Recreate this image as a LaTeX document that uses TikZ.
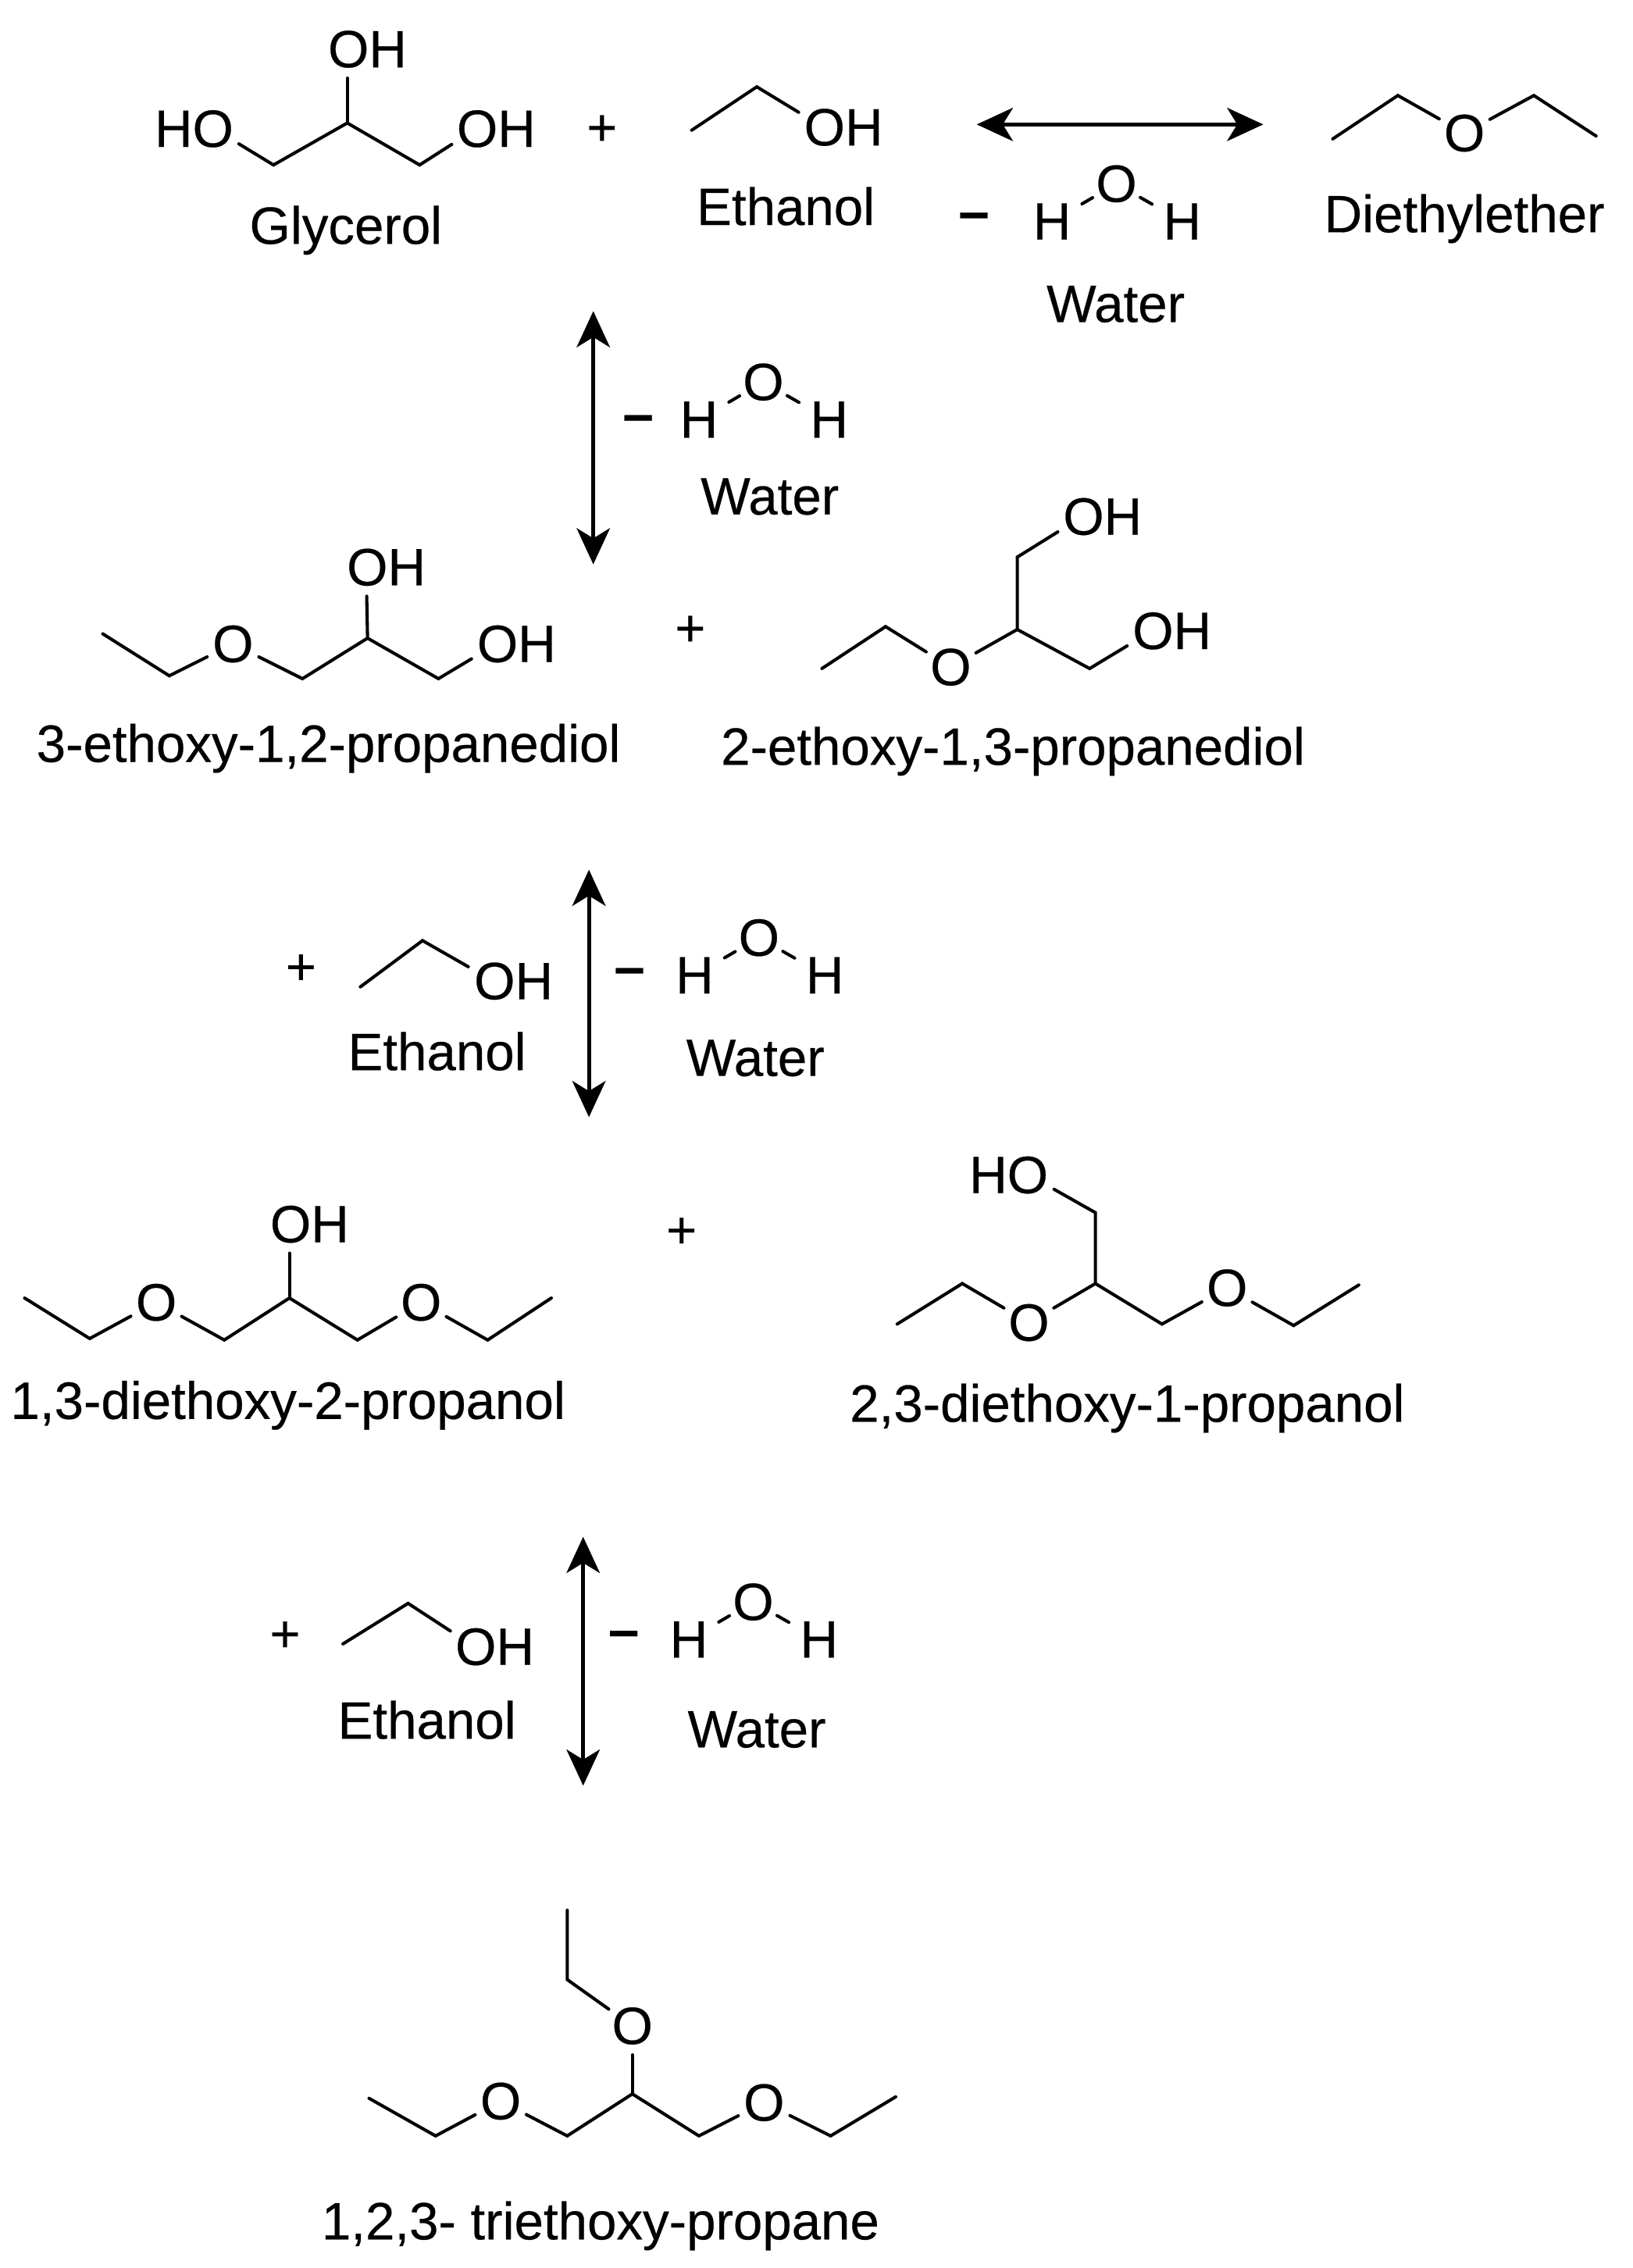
\documentclass[tikz,border=0pt]{standalone}
\usepackage{fontspec}
\setmainfont[FakeBold=0.35]{Liberation Sans}
\usetikzlibrary{arrows.meta}
\newcommand{\atomOH}[3]{\coordinate (#1) at (#2,#3); \node[atom,anchor=west] (#1t) at (#2-13.5,#3) {OH};}
\newcommand{\atomHO}[3]{\coordinate (#1) at (#2,#3); \node[atom,anchor=east] (#1t) at (#2+13.5,#3) {HO};}
\newcommand{\waterAt}[4]{% name, x of left H, y of H, y of O
  \node[atom] (#1l) at (#2,#3) {H};
  \node[atom] (#1o) at (#2+44.5,#4) {O};
  \node[atom] (#1r) at (#2+90,#3) {H};
  \draw[bond,shorten <=24pt,shorten >=19pt] (#1l.center) -- (#1o.center);
  \draw[bond,shorten <=19pt,shorten >=24pt] (#1o.center) -- (#1r.center);}
\tikzset{
  atom/.style={inner sep=0pt,text height=25pt,text depth=0pt,font=\fontsize{36.3}{40}\selectfont},
  plussign/.style={inner sep=0pt,font=\fontsize{36}{40}\selectfont},
  minussign/.style={inner sep=0pt,font=\fontsize{38}{40}\selectfont\bfseries},
  bond/.style={draw,line width=2.2pt,line join=miter,line cap=round},
  tail/.style={shorten >=20pt},
  head/.style={shorten <=20pt},
  both/.style={shorten >=20pt,shorten <=20pt},
  eqarrow/.style={draw,line width=2.6pt,{Stealth[length=25pt,width=23pt,inset=7pt]}-{Stealth[length=25pt,width=23pt,inset=7pt]}},
}
\begin{document}
\begin{tikzpicture}[x=1pt,y=-1pt]
\useasboundingbox (0,0) rectangle (1128,1567.3);

% Glycerol
\atomHO{gA}{148}{89}
\atomOH{gB}{240}{34}
\atomOH{gC}{329}{89}
\coordinate (g1) at (189,114); \coordinate (g2) at (240,85); \coordinate (g3) at (290,114);
\draw[bond,both] (gA) -- (g1) -- (g2) -- (g3) -- (gC);
\draw[bond,tail] (g2) -- (gB);
\node[atom] (glyL) at (239,156) {Glycerol};
\node[plussign] (p1) at (416,90) {+};
% Ethanol
\coordinate (e1) at (478,90); \coordinate (e2) at (523,60);
\atomOH{eO}{569}{88}
\draw[bond,tail] (e1) -- (e2) -- (eO);
\node[atom] (etL) at (543,143) {Ethanol};
% top arrow
\coordinate (ta) at (675,86); \coordinate (tb) at (873,86);
\draw[eqarrow] (ta) -- (tb);
\node[minussign] (m1) at (673,153) {–};
\waterAt{wa}{727}{153}{127}
\node[atom] (waL) at (771,210) {Water};
% Diethylether
\coordinate (d1) at (921,96); \coordinate (d2) at (966,66); \coordinate (d3) at (1060,66); \coordinate (d4) at (1103,94);
\coordinate (dOc) at (1012,92);
\node[atom] (dO) at (dOc) {O};
\draw[bond,tail] (d1) -- (d2) -- (dOc);
\draw[bond,head] (dOc) -- (d3) -- (d4);
\node[atom] (dL) at (1012,148) {Diethylether};

% Arrow 1
\coordinate (a1a) at (410,215); \coordinate (a1b) at (410,390);
\draw[eqarrow] (a1a) -- (a1b);
\node[minussign] (m2) at (441,293) {–};
\waterAt{wb}{483}{290}{264}
\node[atom] (wbL) at (532,343) {Water};

% 3-ethoxy-1,2-propanediol
\coordinate (m1a) at (71,438); \coordinate (m1b) at (117,467); \coordinate (m1o) at (161,445);
\coordinate (m1c) at (209,469); \coordinate (m1d) at (254,441); \coordinate (m1e) at (303,469);
\node[atom] (m1O) at (m1o) {O};
\atomOH{m1x}{343}{445}
\atomOH{m1y}{253}{392}
\draw[bond,tail] (m1a) -- (m1b) -- (m1o);
\draw[bond,both] (m1o) -- (m1c) -- (m1d) -- (m1e) -- (m1x);
\draw[bond,tail] (m1d) -- (m1y);
\node[atom] (m1L) at (227,514) {3-ethoxy-1,2-propanediol};
\node[plussign] (p2) at (477,436) {+};

% 2-ethoxy-1,3-propanediol
\coordinate (m2a) at (568,462); \coordinate (m2b) at (612,433); \coordinate (m2o) at (657,461);
\coordinate (m2c) at (703,435); \coordinate (m2d) at (703,385); \coordinate (m2e) at (753,462);
\node[atom] (m2O) at (m2o) {O};
\atomOH{m2x}{748}{357}
\atomOH{m2y}{796}{436}
\draw[bond,tail] (m2a) -- (m2b) -- (m2o);
\draw[bond,head] (m2o) -- (m2c) -- (m2d);
\draw[bond,tail] (m2d) -- (m2x);
\draw[bond,tail] (m2c) -- (m2e) -- (m2y);
\node[atom] (m2L) at (700,516) {2-ethoxy-1,3-propanediol};

% Arrow 2
\coordinate (a2a) at (407,601); \coordinate (a2b) at (407,772);
\draw[eqarrow] (a2a) -- (a2b);
\node[plussign] (p3) at (208,670) {+};
\coordinate (e3) at (249,682); \coordinate (e4) at (292,650);
\atomOH{e2O}{341}{678}
\draw[bond,tail] (e3) -- (e4) -- (e2O);
\node[atom] (e2L) at (302,727) {Ethanol};
\node[minussign] (m3) at (435,675) {–};
\waterAt{wc}{480}{674}{648}
\node[atom] (wcL) at (522,731) {Water};

% 1,3-diethoxy-2-propanol
\coordinate (n1a) at (17,897); \coordinate (n1b) at (62,925); \coordinate (n1o) at (108,900);
\coordinate (n1c) at (155,926); \coordinate (n1d) at (200,897); \coordinate (n1e) at (247,926);
\coordinate (n1p) at (291,900); \coordinate (n1f) at (337,926); \coordinate (n1g) at (381,897);
\node[atom] (n1O) at (n1o) {O};
\node[atom] (n1P) at (n1p) {O};
\atomOH{n1x}{200}{846}
\draw[bond,tail] (n1a) -- (n1b) -- (n1o);
\draw[bond,both] (n1o) -- (n1c) -- (n1d) -- (n1e) -- (n1p);
\draw[bond,head] (n1p) -- (n1f) -- (n1g);
\draw[bond,tail] (n1d) -- (n1x);
\node[atom] (n1L) at (199,968) {1,3-diethoxy-2-propanol};
\node[plussign] (p4) at (471,852) {+};

% 2,3-diethoxy-1-propanol
\coordinate (n2a) at (620,915); \coordinate (n2b) at (665,887); \coordinate (n2o) at (711,914);
\coordinate (n2c) at (757,887); \coordinate (n2d) at (803,915); \coordinate (n2p) at (848,890);
\coordinate (n2e) at (894,916); \coordinate (n2f) at (939,888); \coordinate (n2g) at (757,838);
\node[atom] (n2O) at (n2o) {O};
\node[atom] (n2P) at (n2p) {O};
\atomHO{n2x}{711}{812}
\draw[bond,tail] (n2a) -- (n2b) -- (n2o);
\draw[bond,both] (n2o) -- (n2c) -- (n2d) -- (n2p);
\draw[bond,head] (n2p) -- (n2e) -- (n2f);
\draw[bond,tail] (n2c) -- (n2g) -- (n2x);
\node[atom] (n2L) at (779,970) {2,3-diethoxy-1-propanol};

% Arrow 3
\coordinate (a3a) at (403,1062); \coordinate (a3b) at (403,1234);
\draw[eqarrow] (a3a) -- (a3b);
\node[plussign] (p5) at (197,1131) {+};
\coordinate (e5) at (237,1136); \coordinate (e6) at (282,1108);
\atomOH{e3O}{328}{1138}
\draw[bond,tail] (e5) -- (e6) -- (e3O);
\node[atom] (e3L) at (295,1189) {Ethanol};
\node[minussign] (m4) at (431,1133) {–};
\waterAt{wd}{476}{1133}{1107}
\node[atom] (wdL) at (523,1195) {Water};

% 1,2,3-triethoxy-propane
\coordinate (t1) at (392,1320); \coordinate (t2) at (392,1368); \coordinate (to) at (437,1400); \coordinate (t3) at (437,1447);
\coordinate (ta1) at (255,1450); \coordinate (ta2) at (301,1476); \coordinate (tp) at (346,1452); \coordinate (ta3) at (392,1476);
\coordinate (tb1) at (483,1476); \coordinate (tq) at (528,1453); \coordinate (tb2) at (574,1476); \coordinate (tb3) at (619,1449);
\node[atom] (tO) at (to) {O};
\node[atom] (tP) at (tp) {O};
\node[atom] (tQ) at (tq) {O};
\draw[bond,tail] (t1) -- (t2) -- (to);
\draw[bond,head] (to) -- (t3);
\draw[bond,tail] (ta1) -- (ta2) -- (tp);
\draw[bond,both] (tp) -- (ta3) -- (t3) -- (tb1) -- (tq);
\draw[bond,head] (tq) -- (tb2) -- (tb3);
\node[atom] (tL) at (415,1535) {1,2,3- triethoxy-propane};
\end{tikzpicture}
\end{document}
